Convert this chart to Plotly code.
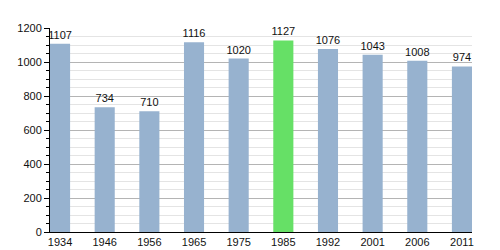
import plotly.graph_objects as go

years = ["1934", "1946", "1956", "1965", "1975", "1985", "1992", "2001", "2006", "2011"]
population = [1107, 734, 710, 1116, 1020, 1127, 1076, 1043, 1008, 974]
highlight_year = "1985"

blue = "#97b2cf"
green = "#66e066"
colors = [green if y == highlight_year else blue for y in years]

fig = go.Figure(go.Bar(
    x=years,
    y=population,
    width=0.45,
    marker=dict(color=colors, line=dict(width=0)),
    text=[str(v) for v in population],
    textposition="outside",
    constraintext="none",
    textfont=dict(family="Liberation Sans, Arial, sans-serif", size=11, color="#111"),
    cliponaxis=False,
))

fig.update_layout(
    width=500, height=250,
    margin=dict(l=50, r=28, t=28, b=18, autoexpand=False),
    paper_bgcolor="white",
    plot_bgcolor="white",
    showlegend=False,
    font=dict(family="Liberation Sans, Arial, sans-serif", size=11, color="#111"),
)

fig.update_xaxes(
    type="category",
    range=[-0.225, 9.225],
    automargin=False,
    showline=True, linecolor="black", linewidth=1,
    ticks="", showgrid=False,
    ticklabelstandoff=0,
    tickfont=dict(size=11),
)

fig.update_yaxes(
    range=[0, 1200],
    dtick=200,
    automargin=False,
    showline=True, linecolor="black", linewidth=1,
    ticks="outside", ticklen=5, tickcolor="black",
    showgrid=True, gridcolor="#b4b4b4", gridwidth=1,
    zeroline=False,
    tickfont=dict(size=11),
    minor=dict(dtick=50, ticks="outside", ticklen=3, tickcolor="black",
               showgrid=True, gridcolor="#e4e4e4", gridwidth=1),
)

fig.write_html("out.html")
